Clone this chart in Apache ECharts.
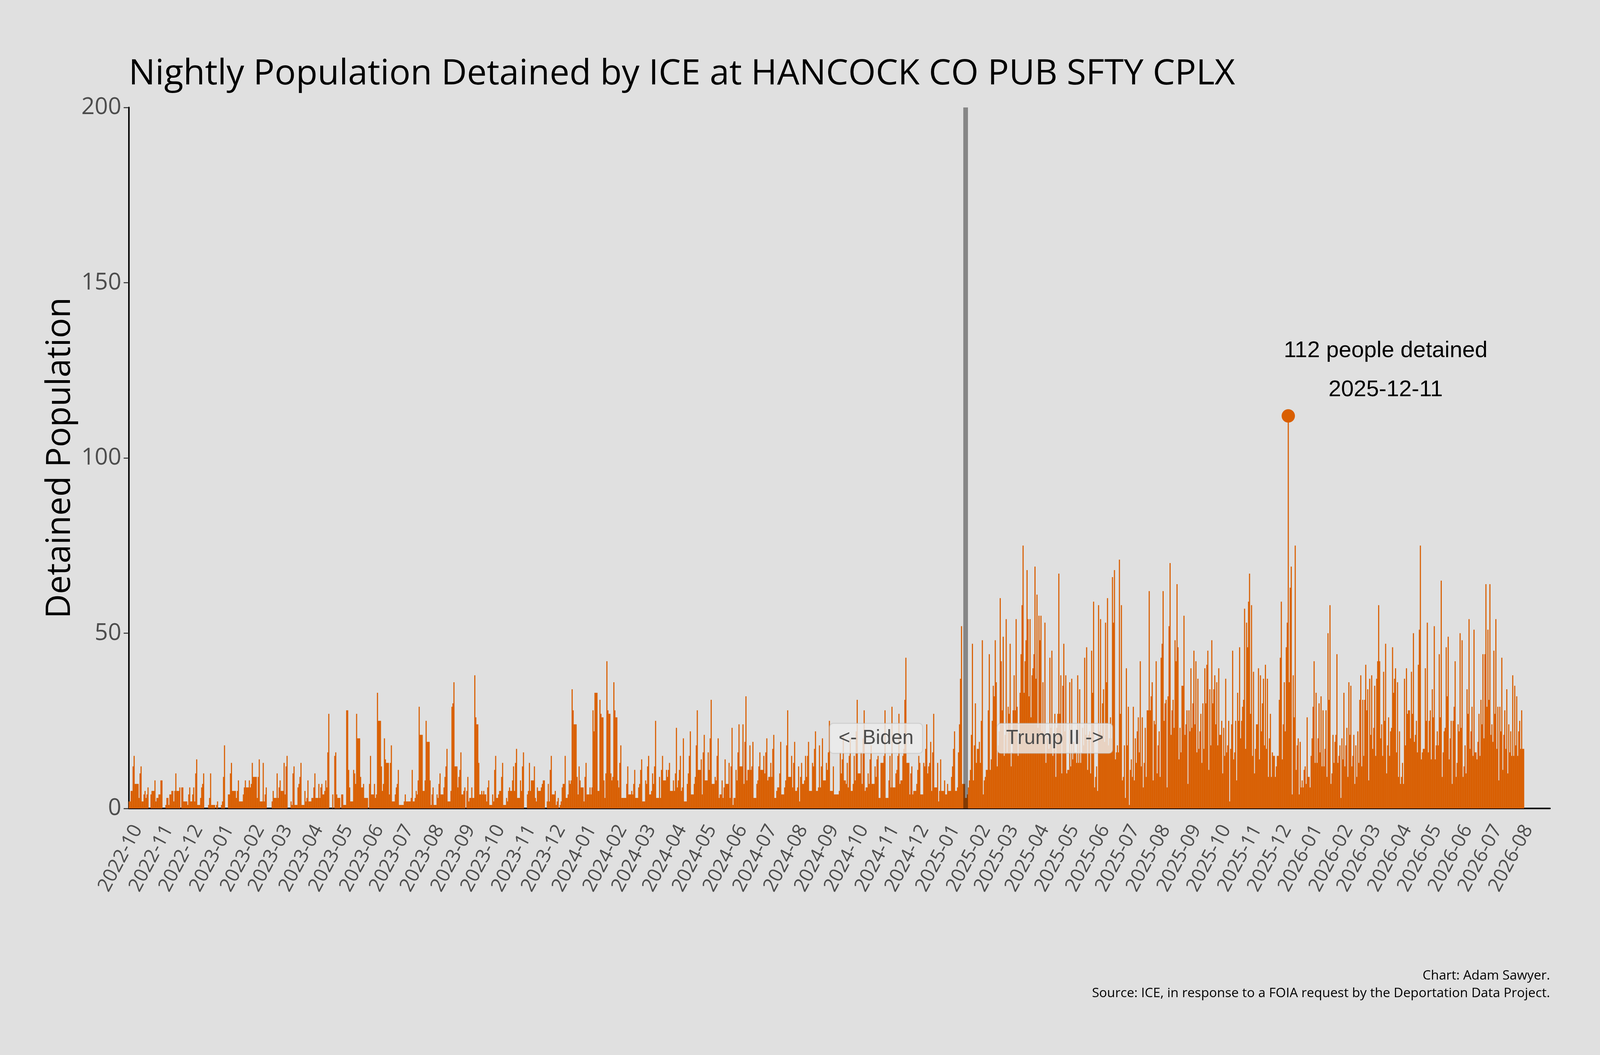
<!DOCTYPE html>
<html>
<head>
<meta charset="utf-8">
<title>Nightly Population Detained by ICE at HANCOCK CO PUB SFTY CPLX</title>
<script src="https://cdn.jsdelivr.net/npm/echarts@6/dist/echarts.min.js"></script>
<style>
  html, body { margin: 0; padding: 0; background: #e0e0e0; overflow: hidden; }
  #chart { width: 100vw; height: 100vh; }
</style>
</head>
<body>
<div id="chart"></div>
<script>
// nightly detained population, one value per day starting 2022-10-01
const pop2022 = [
  2,2,5,5,12,15,7,7,7,7, 3,10,12,2,2,4,5,3,4,6, 0,0,4,5,5,5,8,2,3,3,
  4,4,8,8,0,0,0,1,3,3, 1,4,4,5,5,2,5,10,5,5, 5,6,0,6,6,2,2,2,2,1,
  4,6,2,2,4,6,2,10,14,1, 1,1,3,6,7,10,0,0,0,0, 1,3,10,1,1,1,1,0,1,2,
  0,0
]
const pop2023 = [
  0,1,2,9,18,0,0,0,4,4, 10,13,5,5,5,5,3,5,8,2, 2,2,2,4,6,8,6,6,6,8,
  6,7,13,9,9,9,9,3,9,14, 2,2,2,13,2,4,6,0,0,0, 0,0,2,5,3,3,3,10,3,6,
  8,5,5,5,13,4,12,15,0,0, 0,2,1,10,12,1,1,1,6,7, 9,13,1,1,1,5,2,3,8,2,
  2,2,3,3,6,10,3,3,3,7, 3,6,7,4,4,5,8,6,16,27, 0,0,0,4,0,15,16,4,3,3,
  3,0,4,4,1,1,1,28,28,11, 6,2,2,2,11,10,7,27,20,20, 20,9,6,6,7,3,3,3,3,0,
  7,15,4,4,4,7,3,4,33,25, 25,25,12,5,7,20,14,13,13,13, 4,13,18,2,2,2,4,6,7,11,
  1,1,1,1,1,2,4,2,2,2, 2,2,3,11,2,2,3,5,4,8, 29,21,21,21,5,5,8,25,19,19,
  19,8,1,4,6,1,1,1,4,3, 7,10,4,4,4,6,9,12,17,2, 2,2,5,29,30,36,12,12,12,6,
  9,11,16,4,4,5,6,0,5,9, 2,3,3,6,3,3,38,26,24,24, 13,4,4,5,4,5,4,4,2,6,
  8,1,1,1,4,2,11,15,3,3, 4,5,5,9,13,1,1,1,3,2, 5,6,5,5,8,12,5,13,17,3,
  3,3,8,5,12,16,0,0,0,4, 5,13,5,8,8,8,12,3,2,6, 5,5,5,6,7,8,8,0,0,2,
  7,2,11,15,4,4,4,5,1,2, 3,0,1,2,6,7,7,15,3,3, 4,8,7,8,34,28,24,24,24,9,
  4,12,8,6,6
]
const pop2024 = [
  6,2,9,13,4,4,4,6,4,6, 28,22,33,33,33,5,5,31,27,26, 26,8,3,10,42,28,27,27,10,8,
  9,36,28,26,26,8,6,13,18,3, 3,3,3,3,7,12,4,4,4,5, 4,7,11,3,3,3,6,7,11,14,
  2,2,2,8,7,12,15,4,4,5, 10,7,12,25,3,3,3,9,3,11, 15,8,8,8,11,9,11,13,5,5,
  5,8,5,10,23,6,8,11,15,5, 6,20,2,2,2,7,10,15,22,4, 4,4,7,9,18,28,11,11,11,14,
  4,16,21,8,8,8,16,11,20,31, 7,7,7,9,8,15,20,3,4,4, 8,3,6,14,7,7,7,13,3,12,
  23,1,3,3,11,8,16,24,12,12, 12,24,7,19,32,8,11,11,18,11, 12,19,3,3,3,7,8,12,16,11,
  11,11,15,10,16,20,8,9,9,13, 9,17,21,3,3,5,6,6,10,19, 4,4,4,6,8,18,28,9,9,9,
  15,6,13,19,5,5,6,12,2,9, 13,7,7,8,15,9,15,19,5,5, 5,13,12,17,22,5,5,6,18,6,
  12,20,8,8,8,13,11,16,25,5, 5,5,12,4,4,4,4,4,5,16, 10,14,21,8,8,7,13,6,15,20,
  5,5,7,15,8,22,31,10,10,10, 16,7,20,28,5,6,6,10,7,14, 18,7,7,7,12,9,14,15,3,3,
  13,13,13,15,28,3,3,3,8,15, 6,29,6,6,6,10,11,15,27,7, 8,8,15,17,31,43,13,13,13,4,
  10,12,4,5,5,5,7,11,15,13, 4,4,4,13,12,17,24,10,12,13, 19,5,16,27,6,6,6,13,2,5,
  14,5,5,5,8,4
]
const pop2025 = [
  4,7,5,5,5,9,12,17,22,5, 5,6,16,24,37,52,7,7,7,3, 3,4,6,8,11,21,47,8,18,30,
  13,17,17,19,13,25,48,4,8,9, 11,11,28,44,11,14,25,35,32,48, 36,12,18,22,60,42,28,49,15,21,
  54,16,29,27,47,12,16,28,38,28, 54,29,15,19,33,44,58,75,33,42, 48,68,54,32,54,26,38,40,44,69,
  37,61,23,55,48,55,22,36,20,53, 13,21,20,17,43,23,45,15,21,27, 9,23,27,67,27,38,10,35,47,22,
  38,10,11,11,36,12,37,14,19,16, 16,13,38,13,34,13,16,23,18,43, 21,46,11,21,22,10,45,33,59,6,
  9,12,5,58,22,54,21,30,34,19, 53,36,60,18,20,26,20,66,53,68, 14,16,18,16,71,27,58,8,9,18,
  3,40,18,29,1,11,14,9,29,8, 20,13,22,26,16,42,12,26,6,13, 23,9,28,28,62,28,32,36,8,25,
  24,42,10,18,22,9,43,47,62,25, 30,31,6,32,52,70,21,28,31,23, 48,42,64,46,14,23,16,35,35,55,
  21,24,28,7,28,22,40,23,30,45, 24,42,16,37,17,22,27,13,30,17, 40,30,41,45,11,34,18,48,30,34,
  38,24,36,18,40,21,21,25,10,23, 15,37,16,18,25,2,17,24,45,14, 16,25,8,33,25,46,20,25,29,31,
  57,17,53,46,59,67,27,58,15,39, 10,17,24,24,40,14,38,22,30,37, 18,41,17,37,9,20,27,9,16,15,
  15,9,12,15,15,31,43,59,14,24, 36,22,46,53,112,36,63,69,4,38, 26,75,11,18,20,4,19,6,8,6,
  11,12,7,26,9
]
const pop2026 = [
  9,6,15,20,29,42,13,33,13,20, 30,16,32,12,28,12,17,28,9,50, 31,58,7,10,21,13,19,21,44,13,
  15,18,3,20,14,33,12,18,23,9, 36,21,35,12,15,21,7,18,9,22, 13,31,38,12,31,15,31,41,28,34,
  8,37,21,38,17,23,35,15,37,42, 58,42,20,24,15,39,25,47,10,18, 26,15,22,23,46,33,37,40,16,36,
  9,22,7,9,13,7,37,18,40,27, 28,28,20,39,27,50,19,21,25,16, 41,51,75,14,16,17,17,40,25,53,
  16,25,28,14,34,26,52,14,18,22, 18,44,26,65,9,16,22,23,46,32, 49,14,20,25,7,25,29,42,9,13,
  24,22,50,23,48,9,12,18,10,34, 27,54,17,22,29,15,51,16,16,14, 19,27,15,31,24,44,20,44,64,29,
  51,31,64,21,24,19,45,27,54,17, 29,8,29,22,43,11,21,28,17,34, 10,24,16,22,15,38,15,35,18,32,
  15,22,25,17,28,17,17
]
const counts = [].concat(pop2022, pop2023, pop2024, pop2025, pop2026)

// x axis runs from the first night to the end of August 2026
const dates = []
for (let t = Date.UTC(2022, 9, 1); t <= Date.UTC(2026, 7, 31); t += 86400000) {
  dates.push(new Date(t).toISOString().slice(0, 10))
}
const yTicks = [0, 50, 100, 150, 200]

const inaugDate = '2025-01-20'
const peakDate = '2025-12-11'
const peakValue = 112
const eraLabels = ['<- Biden', 'Trump II ->']

const isMonthStart = (i, v) => v.slice(8) === '01'
const shiftDate = (d, n) => dates[dates.indexOf(d) + n]

const chart = echarts.init(document.querySelector('#chart'))
// layout was measured on a 4800 x 2700 canvas, scale it to whatever we get
const sx = chart.getWidth() / 4800
const sy = chart.getHeight() / 2700
const fs = Math.min(sx, sy)
const px = v => v * sx
const py = v => v * sy
const f = v => v * fs

const font = 'Open Sans'
const labelBox = {
  show: true,
  position: 'inside',
  fontFamily: 'Liberation Sans',
  fontSize: f(60),
  lineHeight: f(66),
  color: '#4d4d4d',
  backgroundColor: 'rgba(236,236,236,0.82)',
  borderColor: 'rgba(190,190,190,0.6)',
  borderWidth: 2,
  borderRadius: f(10),
  padding: [f(11), f(26), f(11), f(26)],
}

chart.setOption({
  backgroundColor: '#e0e0e0',
  animation: false,
  title: {
    text: 'Nightly Population Detained by ICE at HANCOCK CO PUB SFTY CPLX',
    left: px(380),
    top: py(140),
    textStyle: { fontFamily: font, fontSize: f(106), fontWeight: 'normal', color: '#000' },
  },
  grid: { left: px(386), right: px(150), top: py(275), bottom: py(631) },
  xAxis: {
    type: 'category',
    data: dates,
    axisLine: { lineStyle: { color: '#000', width: f(4.5) } },
    axisTick: { interval: isMonthStart, alignWithLabel: true, length: f(15), lineStyle: { color: '#333', width: f(3) } },
    axisLabel: {
      interval: isMonthStart,
      formatter: v => v.slice(0, 7),
      rotate: 62,
      margin: f(40),
      align: 'right',
      verticalAlign: 'top',
      fontFamily: font,
      fontSize: f(58),
      color: '#4d4d4d',
    },
  },
  yAxis: {
    type: 'value',
    min: yTicks[0],
    max: yTicks[yTicks.length - 1],
    interval: 50,
    name: 'Detained Population',
    nameLocation: 'middle',
    nameGap: px(200),
    // this name runs along the height, so it follows the vertical scale
    nameTextStyle: { fontFamily: font, fontSize: 86 * sy, color: '#000', verticalAlign: 'middle' },
    axisLine: { show: true, lineStyle: { color: '#000', width: f(4.5) } },
    axisTick: { show: true, length: f(15), lineStyle: { color: '#333', width: f(3) } },
    axisLabel: { margin: f(22), fontFamily: font, fontSize: f(70), color: '#4d4d4d' },
    splitLine: { show: false },
  },
  series: [
    {
      type: 'bar',
      data: counts,
      barWidth: '112%',
      barCategoryGap: '0%',
      itemStyle: { color: '#d95f02' },
      markLine: {
        silent: true,
        symbol: ['none', 'none'],
        label: { show: false },
        lineStyle: { type: 'solid', color: 'rgba(0,0,0,0.4)', width: px(14) },
        data: [{ xAxis: inaugDate }],
      },
      markPoint: {
        silent: true,
        data: [
          { coord: [peakDate, peakValue], symbol: 'circle', symbolSize: f(40), itemStyle: { color: '#d95f02' }, label: { show: false } },
          {
            coord: [shiftDate(peakDate, 98), 125],
            symbol: 'circle',
            symbolSize: 0,
            label: {
              show: true,
              position: 'inside',
              formatter: peakValue + ' people detained\n' + peakDate,
              fontFamily: 'Liberation Sans',
              fontSize: f(68),
              lineHeight: py(100),
              color: '#000',
              align: 'center',
            },
          },
          { coord: [shiftDate(inaugDate, -90), 20], symbol: 'circle', symbolSize: 0, label: { ...labelBox, formatter: eraLabels[0] } },
          { coord: [shiftDate(inaugDate, 90), 20], symbol: 'circle', symbolSize: 0, label: { ...labelBox, formatter: eraLabels[1] } },
        ],
      },
    },
  ],
  graphic: [
    {
      type: 'text',
      x: px(4650),
      y: py(2497),
      style: { text: 'Chart: Adam Sawyer.', font: f(39.5) + 'px "Open Sans"', fill: '#000', textAlign: 'right', textVerticalAlign: 'middle' },
    },
    {
      type: 'text',
      x: px(4650),
      y: py(2542),
      style: {
        text: 'Source: ICE, in response to a FOIA request by the Deportation Data Project.',
        font: f(39.5) + 'px "Open Sans"',
        fill: '#000',
        textAlign: 'right',
        textVerticalAlign: 'middle',
      },
    },
  ],
})
</script>
</body>
</html>
